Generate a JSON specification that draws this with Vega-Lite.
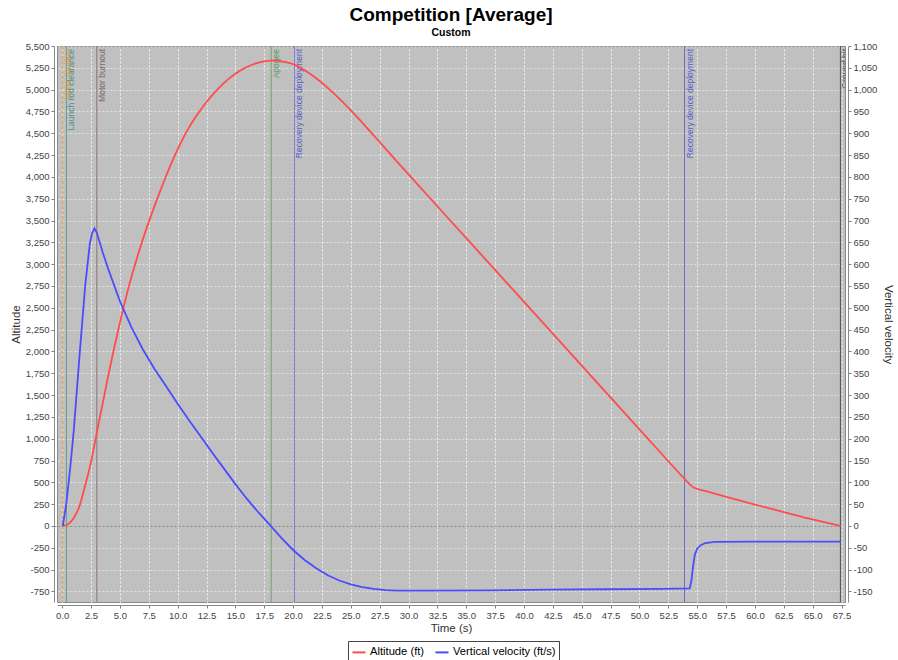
{
  "$schema": "https://vega.github.io/schema/vega-lite/v6.json",
  "autosize": {"type": "none"},
  "padding": {"left": 57, "top": 46, "right": 53, "bottom": 58},
  "width": 788,
  "height": 556,
  "background": "white",
  "title": {
    "text": "Competition [Average]",
    "subtitle": "Custom",
    "font": "Liberation Sans",
    "fontSize": 19,
    "fontWeight": "bold",
    "color": "black",
    "subtitleFont": "Liberation Sans",
    "subtitleFontSize": 10.5,
    "subtitleFontWeight": "bold",
    "subtitleColor": "black",
    "subtitlePadding": 3,
    "anchor": "middle",
    "offset": 3
  },
  "datasets": {
    "altitude": [
      {"t": 0, "alt": 0}, {"t": 0.5, "alt": 20}, {"t": 1.0, "alt": 92}, {"t": 1.5, "alt": 230},
      {"t": 2.0, "alt": 470}, {"t": 2.5, "alt": 735}, {"t": 3.0, "alt": 1070}, {"t": 3.5, "alt": 1400},
      {"t": 4.0, "alt": 1730}, {"t": 4.5, "alt": 2040}, {"t": 5.0, "alt": 2330}, {"t": 5.5, "alt": 2605},
      {"t": 6.0, "alt": 2855}, {"t": 6.5, "alt": 3080}, {"t": 7.0, "alt": 3290}, {"t": 7.5, "alt": 3485},
      {"t": 8.0, "alt": 3668}, {"t": 8.5, "alt": 3843}, {"t": 9.0, "alt": 4010}, {"t": 9.5, "alt": 4170},
      {"t": 10.0, "alt": 4316}, {"t": 10.5, "alt": 4450}, {"t": 11.0, "alt": 4570}, {"t": 11.5, "alt": 4675},
      {"t": 12.0, "alt": 4770}, {"t": 12.5, "alt": 4858}, {"t": 13.0, "alt": 4938}, {"t": 13.5, "alt": 5010},
      {"t": 14.0, "alt": 5075}, {"t": 14.5, "alt": 5132}, {"t": 15.0, "alt": 5182}, {"t": 15.5, "alt": 5225},
      {"t": 16.0, "alt": 5260}, {"t": 16.5, "alt": 5288}, {"t": 17.0, "alt": 5310}, {"t": 17.5, "alt": 5325},
      {"t": 18.0, "alt": 5332}, {"t": 18.5, "alt": 5332}, {"t": 19.0, "alt": 5325}, {"t": 19.5, "alt": 5311},
      {"t": 20.0, "alt": 5292}, {"t": 21.0, "alt": 5222}, {"t": 22.0, "alt": 5130}, {"t": 23.0, "alt": 5020},
      {"t": 24.0, "alt": 4896}, {"t": 25.0, "alt": 4762}, {"t": 26.0, "alt": 4620}, {"t": 27.0, "alt": 4474},
      {"t": 28.0, "alt": 4325}, {"t": 29.0, "alt": 4176}, {"t": 30.0, "alt": 4028}, {"t": 35.0, "alt": 3298},
      {"t": 40.0, "alt": 2568}, {"t": 45.0, "alt": 1838}, {"t": 50.0, "alt": 1108}, {"t": 53.9, "alt": 541},
      {"t": 54.4, "alt": 472}, {"t": 54.7, "alt": 440}, {"t": 55.0, "alt": 426}, {"t": 56.0, "alt": 390},
      {"t": 58.0, "alt": 316}, {"t": 60.0, "alt": 245}, {"t": 62.5, "alt": 160}, {"t": 65.0, "alt": 75},
      {"t": 67.4, "alt": 0}
    ],
    "velocity": [
      {"t": 0.05, "vel": 0}, {"t": 0.35, "vel": 50}, {"t": 0.7, "vel": 135}, {"t": 1.0, "vel": 218},
      {"t": 1.5, "vel": 390}, {"t": 2.0, "vel": 553}, {"t": 2.4, "vel": 648}, {"t": 2.6, "vel": 672},
      {"t": 2.8, "vel": 682}, {"t": 3.0, "vel": 672}, {"t": 3.5, "vel": 628}, {"t": 4.0, "vel": 588},
      {"t": 5.0, "vel": 515}, {"t": 6.0, "vel": 455}, {"t": 7.0, "vel": 404}, {"t": 8.0, "vel": 360},
      {"t": 9.0, "vel": 320}, {"t": 10.0, "vel": 280}, {"t": 11.0, "vel": 242}, {"t": 12.0, "vel": 205},
      {"t": 13.0, "vel": 168}, {"t": 14.0, "vel": 132}, {"t": 15.0, "vel": 96}, {"t": 16.0, "vel": 62},
      {"t": 17.0, "vel": 31}, {"t": 18.0, "vel": 2}, {"t": 19.0, "vel": -28}, {"t": 20.0, "vel": -55},
      {"t": 21.0, "vel": -78}, {"t": 22.0, "vel": -97}, {"t": 23.0, "vel": -113}, {"t": 24.0, "vel": -125},
      {"t": 25.0, "vel": -134}, {"t": 26.0, "vel": -140}, {"t": 27.0, "vel": -144}, {"t": 28.0, "vel": -147},
      {"t": 29.0, "vel": -148}, {"t": 32.0, "vel": -148}, {"t": 37.0, "vel": -147.5}, {"t": 42.0, "vel": -146},
      {"t": 47.0, "vel": -145}, {"t": 52.0, "vel": -144}, {"t": 54.35, "vel": -143}, {"t": 54.5, "vel": -125},
      {"t": 54.65, "vel": -90}, {"t": 54.8, "vel": -65}, {"t": 55.0, "vel": -52}, {"t": 55.3, "vel": -44},
      {"t": 55.7, "vel": -39}, {"t": 56.5, "vel": -36.5}, {"t": 60.0, "vel": -36}, {"t": 67.4, "vel": -36}
    ],
    "events": [
      {"t": 0.03, "event": "Motor ignition"},
      {"t": 0.37, "event": "Launch rod clearance"},
      {"t": 3.0, "event": "Motor burnout"},
      {"t": 18.1, "event": "Apogee"},
      {"t": 20.1, "event": "Recovery device deployment"},
      {"t": 53.9, "event": "Recovery device deployment"},
      {"t": 67.4, "event": "Ground hit"}
    ]
  },
  "encoding": {
    "x": {
      "field": "t", "type": "quantitative",
      "scale": {"domain": [-0.45, 67.8], "nice": false, "zero": false},
      "axis": {
        "title": "Time (s)",
        "values": [0, 2.5, 5, 7.5, 10, 12.5, 15, 17.5, 20, 22.5, 25, 27.5, 30, 32.5, 35, 37.5, 40, 42.5, 45, 47.5, 50, 52.5, 55, 57.5, 60, 62.5, 65, 67.5],
        "format": ".1f",
        "grid": true,
        "labelOverlap": false,
        "labelFlush": false,
        "titlePadding": 3
      }
    }
  },
  "layer": [
    {
      "layer": [
        {
          "data": {"name": "events"},
          "mark": {"type": "rule", "strokeWidth": 1},
          "encoding": {
            "stroke": {
              "field": "event", "type": "nominal", "legend": null,
              "scale": {
                "domain": ["Motor ignition", "Launch rod clearance", "Motor burnout", "Apogee", "Recovery device deployment", "Ground hit"],
                "range": ["#e8a048", "#5e9e96", "#8a7474", "#72a472", "#6c6cd0", "#505050"]
              }
            },
            "strokeDash": {
              "field": "event", "type": "nominal", "legend": null,
              "scale": {
                "domain": ["Motor ignition", "Launch rod clearance", "Motor burnout", "Apogee", "Recovery device deployment", "Ground hit"],
                "range": [[3, 2], [1, 0], [1, 0], [1, 0], [1, 0], [1, 0]]
              }
            }
          }
        },
        {
          "data": {"name": "events"},
          "mark": {"type": "text", "angle": 270, "align": "right", "baseline": "top", "dx": -3, "dy": 1, "font": "Liberation Sans", "fontSize": 8.5, "clip": true},
          "encoding": {
            "y": {
              "datum": 5500, "type": "quantitative",
              "scale": {"domain": [-871, 5500], "nice": false, "zero": false},
              "axis": {
                "title": "Altitude",
                "values": [-750, -500, -250, 0, 250, 500, 750, 1000, 1250, 1500, 1750, 2000, 2250, 2500, 2750, 3000, 3250, 3500, 3750, 4000, 4250, 4500, 4750, 5000, 5250, 5500],
                "labelExpr": "replace(format(datum.value, ','), '\u2212', '-')",
                "grid": true,
                "gridColor": {"condition": {"test": "datum.value === 0", "value": "#7a7a7a"}, "value": "#ffffff"},
                "gridOpacity": {"condition": {"test": "datum.value === 0", "value": 1}, "value": 0.75},
                "labelOverlap": false,
                "labelFlush": false,
                "titlePadding": 4
              }
            },
            "text": {"field": "event"},
            "fill": {
              "field": "event", "type": "nominal", "legend": null,
              "scale": {
                "domain": ["Motor ignition", "Launch rod clearance", "Motor burnout", "Apogee", "Recovery device deployment", "Ground hit"],
                "range": ["#e09a40", "#4e9488", "#7a6666", "#5c9c5c", "#5c5cc8", "#505050"]
              }
            }
          }
        },
        {
          "data": {"name": "altitude"},
          "mark": {"type": "line", "strokeWidth": 1.8, "interpolate": "monotone"},
          "encoding": {
            "y": {
              "field": "alt", "type": "quantitative",
              "scale": {"domain": [-871, 5500], "nice": false, "zero": false},
              "axis": {
                "title": "Altitude",
                "values": [-750, -500, -250, 0, 250, 500, 750, 1000, 1250, 1500, 1750, 2000, 2250, 2500, 2750, 3000, 3250, 3500, 3750, 4000, 4250, 4500, 4750, 5000, 5250, 5500],
                "labelExpr": "replace(format(datum.value, ','), '\u2212', '-')",
                "grid": true,
                "gridColor": {"condition": {"test": "datum.value === 0", "value": "#7a7a7a"}, "value": "#ffffff"},
                "gridOpacity": {"condition": {"test": "datum.value === 0", "value": 1}, "value": 0.75},
                "labelOverlap": false,
                "labelFlush": false,
                "titlePadding": 4
              }
            },
            "color": {"datum": "Altitude (ft)"}
          }
        }
      ]
    },
    {
      "data": {"name": "velocity"},
      "mark": {"type": "line", "strokeWidth": 1.8, "interpolate": "linear"},
      "encoding": {
        "y": {
          "field": "vel", "type": "quantitative",
          "scale": {"domain": [-174.2, 1100], "nice": false, "zero": false},
          "axis": {
            "title": "Vertical velocity",
            "orient": "right",
            "values": [-150, -100, -50, 0, 50, 100, 150, 200, 250, 300, 350, 400, 450, 500, 550, 600, 650, 700, 750, 800, 850, 900, 950, 1000, 1050, 1100],
            "labelExpr": "replace(format(datum.value, ','), '\u2212', '-')",
            "grid": false,
            "labelOverlap": false,
            "labelFlush": false,
            "titlePadding": 6
          }
        },
        "color": {"datum": "Vertical velocity (ft/s)"}
      }
    }
  ],
  "resolve": {"scale": {"y": "independent"}},
  "config": {
    "view": {"fill": "#c0c0c0", "stroke": "#8a8a8a"},
    "range": {"category": ["#ff4c4c", "#4c4cff"]},
    "axis": {
      "labelFont": "Liberation Sans",
      "labelFontSize": 9.5,
      "labelColor": "#444444",
      "labelPadding": 2,
      "labelOverlap": false,
      "labelFlush": false,
      "titleFont": "Liberation Sans",
      "titleFontSize": 11.5,
      "titleFontWeight": "normal",
      "titleColor": "#333333",
      "gridColor": "#ffffff",
      "gridDash": [2, 2],
      "gridOpacity": 0.75,
      "tickColor": "#808080",
      "tickSize": 3,
      "domainColor": "#8a8a8a",
      "offset": 3
    },
    "legend": {
      "orient": "none",
      "legendX": 291,
      "legendY": 595,
      "direction": "horizontal",
      "title": null,
      "symbolType": "stroke",
      "symbolStrokeWidth": 2,
      "symbolSize": 170,
      "labelFont": "Liberation Sans",
      "labelFontSize": 11.2,
      "labelColor": "black",
      "labelOffset": 3,
      "columnPadding": 6,
      "padding": 3,
      "strokeColor": "#444444",
      "fillColor": "white"
    }
  }
}
